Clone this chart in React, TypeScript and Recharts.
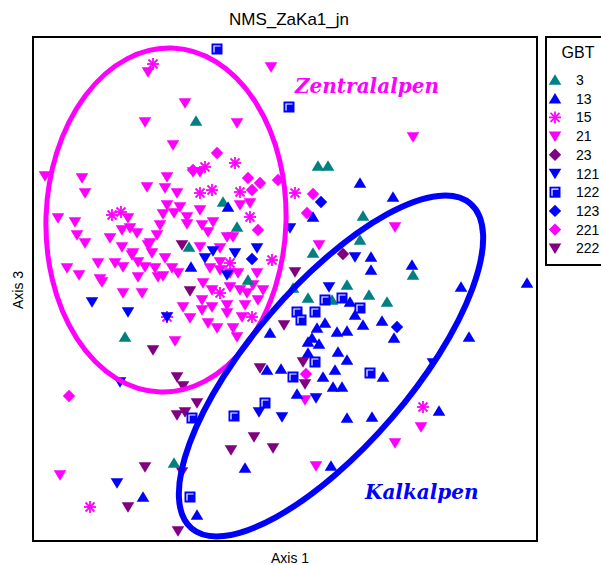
import React from "react";
import { ScatterChart, Scatter, XAxis, YAxis } from "recharts";

// NMS ordination scores (axis 1, axis 3), one list per GBT code
const gbt3: [number, number][] = [
  [163, 420], [285, 375], [295, 375], [330, 325], [327, 301], [280, 288], [380, 266],
  [314, 256], [336, 246], [354, 239], [92, 204], [141, 78], [156, 294], [190, 339],
  [204, 314], [215, 261], [260, 253], [275, 243], [299, 241],
];
const gbt13: [number, number][] = [
  [327, 358], [360, 344], [280, 324], [338, 284], [338, 271], [379, 276], [428, 254],
  [494, 258], [195, 334], [158, 274], [317, 239], [322, 226], [237, 208], [292, 218],
  [284, 213], [279, 203], [275, 199], [286, 197], [304, 209], [314, 210], [275, 188],
  [305, 189], [314, 181], [302, 171], [234, 171], [248, 172], [290, 164], [300, 154],
  [309, 154], [264, 147], [330, 216], [349, 220], [361, 203], [436, 204], [350, 164],
  [314, 123], [339, 124], [406, 130], [212, 73], [110, 44], [164, 26], [298, 75],
];
const gbt15: [number, number][] = [
  [120, 477], [79, 326], [88, 329], [202, 378], [172, 374], [207, 349], [167, 348],
  [179, 351], [217, 324], [197, 278], [239, 281], [262, 348], [187, 248], [219, 224],
  [134, 224], [390, 134], [57, 34],
];
const gbt21: [number, number][] = [
  [115, 469], [152, 438], [112, 419], [140, 396], [238, 474], [204, 418], [380, 404],
  [12, 365], [49, 363], [52, 348], [114, 354], [134, 364], [132, 353], [144, 348],
  [160, 369], [25, 323], [42, 319], [44, 306], [52, 298], [95, 323], [89, 311],
  [97, 313], [104, 308], [77, 303], [89, 294], [134, 336], [147, 334], [130, 327],
  [141, 328], [154, 324], [154, 317], [127, 316], [124, 306], [115, 296], [119, 288],
  [99, 286], [105, 279], [65, 278], [82, 278], [34, 273], [46, 266], [90, 274],
  [112, 274], [122, 273], [132, 283], [139, 273], [145, 268], [67, 262], [130, 265],
  [167, 331], [180, 319], [175, 309], [169, 316], [194, 304], [200, 304], [167, 294],
  [187, 293], [177, 273], [187, 271], [205, 268], [224, 268], [207, 336], [217, 338],
  [167, 369], [117, 298], [100, 288], [125, 264], [105, 264], [109, 248], [90, 248],
  [142, 200], [150, 234], [157, 223], [169, 241], [169, 231], [179, 234], [175, 218],
  [184, 213], [194, 228], [200, 213], [204, 204], [209, 224], [187, 279], [197, 268],
  [170, 258], [179, 251], [197, 254], [207, 251], [214, 248], [220, 256], [194, 236],
  [69, 259], [286, 296], [362, 314], [272, 141], [283, 75], [388, 114], [362, 98],
  [27, 66], [225, 241], [212, 236], [230, 251],
];
const gbt23: [number, number][] = [[310, 287]];
const gbt121: [number, number][] = [
  [296, 254], [283, 143], [226, 129], [249, 124], [400, 178], [84, 58], [59, 239],
  [95, 229], [134, 224], [87, 159], [172, 283], [180, 290], [202, 288], [224, 293],
  [194, 266], [257, 313], [322, 284],
];
const gbt122: [number, number][] = [
  [184, 492], [256, 434], [292, 241], [309, 243], [327, 233], [264, 229], [268, 221],
  [282, 229], [282, 179], [260, 164], [337, 168], [232, 138], [201, 125], [159, 123],
  [157, 44],
];
const gbt123: [number, number][] = [[288, 339], [364, 214], [219, 282]];
const gbt221: [number, number][] = [
  [184, 388], [215, 363], [227, 358], [219, 351], [245, 361], [280, 347], [274, 328],
  [225, 311], [273, 167], [36, 145], [160, 371],
];
const gbt222: [number, number][] = [
  [149, 296], [157, 250], [120, 191], [144, 164], [150, 155], [251, 216], [262, 269],
  [270, 179], [227, 173], [272, 157], [164, 138], [144, 126], [152, 129], [221, 104],
  [198, 91], [240, 93], [112, 74], [149, 69], [95, 34], [145, 10],
];

// group ellipses: centre (axis units), radii, tilt in degrees
const zentralEllipse = { cx: 133, cy: 321, rx: 120, ry: 172, tilt: 2 };
const kalkEllipse = { cx: 298, cy: 175, rx: 214, ry: 80, tilt: 49.3 };

const TEAL = "#008080";
const BLUE = "#0000FF";
const MAGENTA = "#FF00FF";
const PURPLE = "#800080";

type Marker = "up" | "down" | "star" | "diamond" | "square";

const groups: { code: string; data: [number, number][]; color: string; marker: Marker }[] = [
  { code: "3", data: gbt3, color: TEAL, marker: "up" },
  { code: "13", data: gbt13, color: BLUE, marker: "up" },
  { code: "15", data: gbt15, color: MAGENTA, marker: "star" },
  { code: "21", data: gbt21, color: MAGENTA, marker: "down" },
  { code: "23", data: gbt23, color: PURPLE, marker: "diamond" },
  { code: "121", data: gbt121, color: BLUE, marker: "down" },
  { code: "122", data: gbt122, color: BLUE, marker: "square" },
  { code: "123", data: gbt123, color: BLUE, marker: "diamond" },
  { code: "221", data: gbt221, color: MAGENTA, marker: "diamond" },
  { code: "222", data: gbt222, color: PURPLE, marker: "down" },
];
const drawOrder = ["21", "221", "15", "222", "23", "121", "3", "13", "122", "123"];

const W = 593;
const H = 557;
const M = { top: 29, right: 64, bottom: 24, left: 25 };
const DOMAIN: [number, number] = [0, 504];
const PW = W - M.left - M.right;
const PH = H - M.top - M.bottom;
const sx = (v: number) => M.left + ((v - DOMAIN[0]) / (DOMAIN[1] - DOMAIN[0])) * PW;
const sy = (v: number) => M.top + PH - ((v - DOMAIN[0]) / (DOMAIN[1] - DOMAIN[0])) * PH;

function drawMarker(kind: Marker, color: string, cx: number, cy: number) {
  switch (kind) {
    case "up":
      return <path d={`M${cx - 6.3},${cy + 4.7}L${cx + 6.3},${cy + 4.7}L${cx},${cy - 5.8}Z`} fill={color} />;
    case "down":
      return <path d={`M${cx - 6.3},${cy - 4.7}L${cx + 6.3},${cy - 4.7}L${cx},${cy + 5.8}Z`} fill={color} />;
    case "diamond":
      return <path d={`M${cx},${cy - 6.2}L${cx + 6.2},${cy}L${cx},${cy + 6.2}L${cx - 6.2},${cy}Z`} fill={color} />;
    case "square":
      return (
        <g>
          <rect x={cx - 5.5} y={cy - 5.5} width={11} height={11} fill={color} />
          <path d={`M${cx - 3},${cy + 3.5}V${cy - 3}H${cx + 3.5}`} stroke="#fff" strokeWidth={1.2} fill="none" />
        </g>
      );
    case "star":
      return (
        <g stroke={color} strokeWidth={1.8}>
          <line x1={cx - 6} y1={cy} x2={cx + 6} y2={cy} />
          <line x1={cx} y1={cy - 6} x2={cx} y2={cy + 6} />
          <line x1={cx - 4.5} y1={cy - 4.5} x2={cx + 4.5} y2={cy + 4.5} />
          <line x1={cx - 4.5} y1={cy + 4.5} x2={cx + 4.5} y2={cy - 4.5} />
        </g>
      );
  }
}

export default function App() {
  const byCode = Object.fromEntries(groups.map((g) => [g.code, g]));
  const zx = sx(zentralEllipse.cx);
  const zy = sy(zentralEllipse.cy);
  const kx = sx(kalkEllipse.cx);
  const ky = sy(kalkEllipse.cy);
  const sans = "'Liberation Sans', Arial, sans-serif";
  const serif = "'DejaVu Serif', serif";

  return (
    // absolutely placed so the chart runs to the window edge without scrollbars
    <div style={{ position: "absolute", left: 8, top: 8, width: W, height: H }}>
      <ScatterChart width={W} height={H} margin={M}>
        <XAxis type="number" dataKey="x" domain={DOMAIN} hide />
        <YAxis type="number" dataKey="y" domain={DOMAIN} hide />
        {drawOrder.map((code) => {
          const g = byCode[code];
          return (
            <Scatter
              key={code}
              name={code}
              data={g.data.map(([x, y]) => ({ x, y }))}
              isAnimationActive={false}
              shape={(p: any) => drawMarker(g.marker, g.color, p.cx, p.cy)}
            />
          );
        })}
      </ScatterChart>
      <svg width={W} height={H} style={{ position: "absolute", left: 0, top: 0, pointerEvents: "none" }}>
        <text x={281} y={17} textAnchor="middle" fontFamily={sans} fontSize={17}>
          NMS_ZaKa1_jn
        </text>
        <rect x={M.left} y={M.top} width={PW} height={PH} fill="none" stroke="#000" strokeWidth={2} />
        <ellipse
          cx={zx}
          cy={zy}
          rx={zentralEllipse.rx}
          ry={zentralEllipse.ry}
          transform={`rotate(${zentralEllipse.tilt} ${zx} ${zy})`}
          fill="none"
          stroke={MAGENTA}
          strokeWidth={5}
        />
        <ellipse
          cx={kx}
          cy={ky}
          rx={kalkEllipse.rx}
          ry={kalkEllipse.ry}
          transform={`rotate(${-kalkEllipse.tilt} ${kx} ${ky})`}
          fill="none"
          stroke={BLUE}
          strokeWidth={6}
        />
        <text x={287} y={85} fill={MAGENTA} fontFamily={serif} fontWeight="bold" fontStyle="italic" fontSize={20}>
          Zentralalpen
        </text>
        <text x={357} y={491} fill={BLUE} fontFamily={serif} fontWeight="bold" fontStyle="italic" fontSize={20}>
          Kalkalpen
        </text>
        <text x={282} y={555} textAnchor="middle" fontFamily={sans} fontSize={14}>
          Axis 1
        </text>
        <text x={10} y={282} textAnchor="middle" dominantBaseline="central" transform="rotate(-90 10 282)" fontFamily={sans} fontSize={14}>
          Axis 3
        </text>
        {/* legend */}
        <rect x={538} y={29} width={80} height={228} fill="#fff" stroke="#000" strokeWidth={2} />
        <text x={570} y={50} textAnchor="middle" fontFamily={sans} fontSize={16}>
          GBT
        </text>
        {groups.map((g, i) => {
          const y = 72 + i * 18.7;
          return (
            <g key={g.code}>
              {drawMarker(g.marker, g.color, 547, y)}
              <text x={568} y={y + 5} fontFamily={sans} fontSize={14}>
                {g.code}
              </text>
            </g>
          );
        })}
      </svg>
    </div>
  );
}
